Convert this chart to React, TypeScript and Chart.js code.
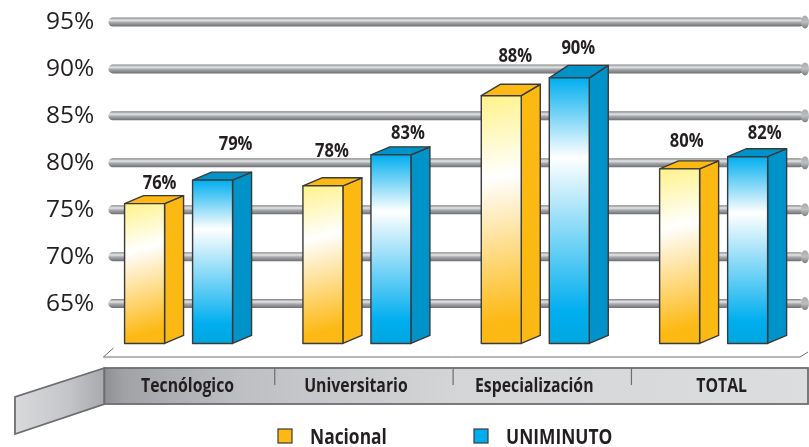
import React, { useEffect, useRef } from "react";
import { Chart, registerables } from "chart.js";

Chart.register(...registerables);

const categories = ["Tecnólogico", "Universitario", "Especialización", "TOTAL"];
const yTicks = [65, 70, 75, 80, 85, 90, 95];
// bar heights as read against the axis
const nacional = [76.5, 78.4, 88, 80.2];
const uniminuto = [79, 81.7, 89.9, 81.5];
// percentages printed above the bars
const nacionalLabels = ["76%", "78%", "88%", "80%"];
const uniminutoLabels = ["79%", "83%", "90%", "82%"];

// label layout nudges relative to bar top centre (separate from the data)
const labelNudges = [
  [[15, -20], [9, -34], [14, -39], [7, -27]],
  [[23, -36], [17, -21], [9, -29], [17, -23]],
];
const catNudges = [9, -1, -1, 8];

const INK = "#231f20";
const LINE = "#3a3a3c";
const BAND = "#6d6e71";
const DEPTH_X = 19;
const DEPTH_Y = 8;
const FRONT_SHIFT = 8 / 9.39;

function narrowText(ctx: CanvasRenderingContext2D, text: string, x: number, y: number, sx: number) {
  ctx.save();
  ctx.translate(x, y);
  ctx.scale(sx, 1);
  ctx.fillText(text, 0, 0);
  ctx.restore();
}

function roundedPipe(ctx: CanvasRenderingContext2D, x0: number, x1: number, y: number) {
  const h = 9;
  const g = ctx.createLinearGradient(0, y - h / 2, 0, y + h / 2);
  g.addColorStop(0, "#808285");
  g.addColorStop(0.3, "#e6e7e8");
  g.addColorStop(0.55, "#a7a9ac");
  g.addColorStop(1, "#6d6e71");
  ctx.fillStyle = g;
  ctx.beginPath();
  ctx.roundRect(x0, y - h / 2, x1 - x0, h, h / 2);
  ctx.fill();
  const k = ctx.createLinearGradient(0, y - 7, 0, y + 7);
  k.addColorStop(0, "#a7a9ac");
  k.addColorStop(0.5, "#bcbec0");
  k.addColorStop(1, "#77787b");
  ctx.fillStyle = k;
  ctx.beginPath();
  ctx.ellipse(x1 + 1, y, 4, 6.5, 0, 0, Math.PI * 2);
  ctx.fill();
}

const scenery = {
  id: "scenery",
  beforeDatasetsDraw(chart: any) {
    const { ctx, scales, chartArea, width } = chart;
    const y = scales.y;
    const x = scales.x;
    ctx.save();
    yTicks.forEach((t) => roundedPipe(ctx, chartArea.left + 19, width - 5, y.getPixelForValue(t)));

    // floor outline
    ctx.strokeStyle = BAND;
    ctx.lineWidth = 1;
    ctx.beginPath();
    ctx.moveTo(chartArea.left + 24, 348);
    ctx.lineTo(chartArea.left + 14, 357);
    ctx.lineTo(width - 9, 357);
    ctx.lineTo(width - 1, 352);
    ctx.stroke();

    // band and flap
    const bl = chartArea.left + 15;
    const bt = 368;
    const bb = 404;
    const flap = ctx.createLinearGradient(15, 0, bl, 0);
    flap.addColorStop(0, "#d9dadc");
    flap.addColorStop(0.6, "#c4c5c8");
    flap.addColorStop(1, "#a7a9ac");
    ctx.fillStyle = flap;
    ctx.strokeStyle = BAND;
    ctx.lineWidth = 1.8;
    ctx.beginPath();
    ctx.moveTo(bl, bt);
    ctx.lineTo(15, 397);
    ctx.lineTo(15, 434);
    ctx.lineTo(bl, bb);
    ctx.closePath();
    ctx.fill();
    ctx.stroke();

    const band = ctx.createLinearGradient(bl, 0, width, 0);
    band.addColorStop(0, "#8f9094");
    band.addColorStop(0.03, "#a2a3a6");
    band.addColorStop(0.2, "#bfc0c3");
    band.addColorStop(0.5, "#d4d5d7");
    band.addColorStop(1, "#dcddde");
    ctx.fillStyle = band;
    ctx.fillRect(bl, bt, width - bl, bb - bt);
    ctx.strokeRect(bl, bt, width - bl - 1, bb - bt);

    // band dividers at category boundaries
    ctx.lineWidth = 1.2;
    for (let i = 0; i < categories.length - 1; i++) {
      const d = (x.getPixelForValue(i) + x.getPixelForValue(i + 1)) / 2 + 7;
      ctx.beginPath();
      ctx.moveTo(d, bt);
      ctx.lineTo(d, 385);
      ctx.stroke();
    }

    // category labels
    ctx.fillStyle = INK;
    ctx.font = "bold 20px 'Open Sans'";
    ctx.textAlign = "center";
    ctx.textBaseline = "middle";
    categories.forEach((c, i) => narrowText(ctx, c, x.getPixelForValue(i) + catNudges[i], 386, 0.79));

    // legend
    ctx.font = "bold 22px 'Open Sans'";
    ctx.textAlign = "left";
    const legendX = [278, 474];
    chart.data.datasets.forEach((d: any, i: number) => {
      ctx.fillStyle = d.backgroundColor;
      ctx.strokeStyle = LINE;
      ctx.lineWidth = 1.2;
      ctx.fillRect(legendX[i], 429, 14, 14);
      ctx.strokeRect(legendX[i], 429, 14, 14);
      ctx.fillStyle = INK;
      narrowText(ctx, d.label, legendX[i] + 32, 438, 0.79);
    });
    ctx.restore();
  },
  afterDatasetsDraw(chart: any) {
    const { ctx } = chart;
    ctx.save();
    chart.data.datasets.forEach((d: any, ds: number) => {
      const meta = chart.getDatasetMeta(ds);
      meta.data.forEach((bar: any, i: number) => {
        const l = bar.x - bar.width / 2;
        const r = bar.x + bar.width / 2;
        const t = bar.y;
        const b = bar.base;
        const dyTop = DEPTH_Y + Math.max(0, 150 - t) / 16;

        ctx.lineJoin = "round";
        ctx.lineWidth = 1.4;
        ctx.strokeStyle = LINE;

        // side
        ctx.fillStyle = d.sideColor;
        ctx.beginPath();
        ctx.moveTo(r, t);
        ctx.lineTo(r + DEPTH_X, t - dyTop);
        ctx.lineTo(r + DEPTH_X, b - DEPTH_Y);
        ctx.lineTo(r, b);
        ctx.closePath();
        ctx.fill();
        ctx.stroke();

        // top
        ctx.fillStyle = d.sideColor;
        ctx.beginPath();
        ctx.moveTo(l, t);
        ctx.lineTo(l + DEPTH_X, t - dyTop);
        ctx.lineTo(r + DEPTH_X, t - dyTop);
        ctx.lineTo(r, t);
        ctx.closePath();
        ctx.fill();
        ctx.stroke();

        // front
        const diag = ds === 0 ? bar.width : 0;
        const g = ctx.createLinearGradient(l, t, l + diag, b);
        d.faceStops.forEach(([p, c]: [number, string]) => g.addColorStop(p, c));
        ctx.fillStyle = g;
        ctx.fillRect(l, t, r - l, b - t);
        ctx.strokeRect(l, t, r - l, b - t);

        // value label
        const [nx, ny] = labelNudges[ds][i];
        ctx.fillStyle = INK;
        ctx.font = "bold 19px 'Open Sans'";
        ctx.textAlign = "center";
        ctx.textBaseline = "middle";
        narrowText(ctx, d.valueLabels[i], bar.x + nx, t + ny, 0.87);
      });
    });
    ctx.restore();
  },
};

export default function App() {
  const ref = useRef<HTMLCanvasElement | null>(null);
  useEffect(() => {
    const chart = new Chart(ref.current as HTMLCanvasElement, {
      type: "bar",
      data: {
        labels: categories,
        datasets: [
          {
            label: "Nacional",
            data: nacional,
            yAxisID: "yFront",
            base: 61.6,
            backgroundColor: "#FDB913",
            sideColor: "#FDB913",
            faceStops: [
              [0, "#FFF28A"],
              [0.33, "#ffffff"],
              [0.9, "#FDB913"],
              [1, "#FDB913"],
            ],
            valueLabels: nacionalLabels,
          } as any,
          {
            label: "UNIMINUTO",
            data: uniminuto,
            yAxisID: "yFront",
            base: 61.6,
            backgroundColor: "#00AEEF",
            sideColor: "#0093C9",
            faceStops: [
              [0, "#00AEEF"],
              [0.3, "#ffffff"],
              [0.88, "#00AEEF"],
              [1, "#00A6DF"],
            ],
            valueLabels: uniminutoLabels,
          } as any,
        ],
      },
      options: {
        responsive: false,
        animation: false,
        events: [],
        layout: { padding: { top: 22, bottom: 96.5, right: 6.2, left: 0 } },
        plugins: { legend: { display: false }, tooltip: { enabled: false } },
        datasets: { bar: { categoryPercentage: 0.7626, barPercentage: 0.588 } },
        scales: {
          x: { display: false, grid: { display: false } },
          y: {
            min: 60,
            max: 95,
            afterFit: (s: any) => {
              s.width = 89.4;
            },
            grid: { display: false, drawTicks: false },
            border: { display: false },
            ticks: {
              stepSize: 5,
              mirror: true,
              padding: -43.5,
              color: INK,
              font: { family: "'Open Sans'", size: 24.5 },
              callback: (v: any) => (yTicks.includes(v) ? `${v}%` : ""),
            },
          },
          yFront: {
            display: false,
            min: 60 + FRONT_SHIFT,
            max: 95 + FRONT_SHIFT,
          },
        },
      },
      plugins: [scenery],
    });
    return () => chart.destroy();
  }, []);
  return (
    <div style={{ position: "fixed", left: 0, top: 0, width: 809, height: 447, background: "#fff" }}>
      <canvas ref={ref} width={809} height={447} style={{ display: "block" }} />
    </div>
  );
}
